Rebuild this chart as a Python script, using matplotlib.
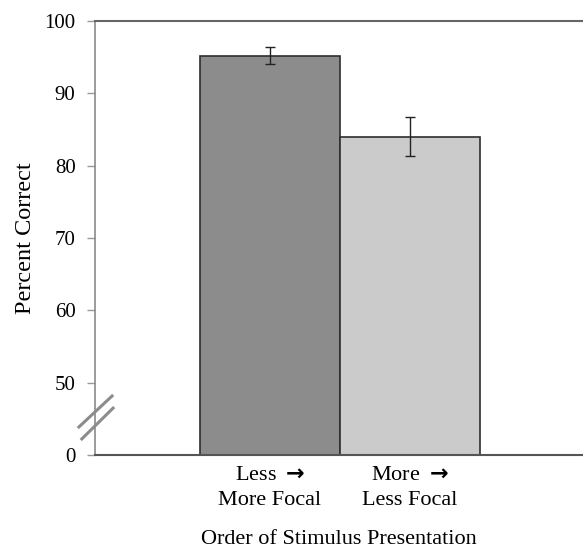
import matplotlib
matplotlib.use("Agg")
import matplotlib.pyplot as plt

categories = ["Less $\\mathbf{\\rightarrow}$\nMore Focal", "More $\\mathbf{\\rightarrow}$\nLess Focal"]
values = [95.2, 84.0]
errors = [1.2, 2.7]
bar_colors = ["#8c8c8c", "#cbcbcb"]
ytick_vals = [40, 50, 60, 70, 80, 90, 100]
ytick_labels = ["0", "50", "60", "70", "80", "90", "100"]

plt.rcParams['font.family'] = ['Liberation Serif', 'DejaVu Serif']
plt.rcParams['mathtext.fontset'] = 'custom'
plt.rcParams['mathtext.rm'] = 'Liberation Serif'
plt.rcParams['mathtext.bf'] = 'DejaVu Sans:bold'

fig = plt.figure(figsize=(5.83, 5.49), dpi=100)
ax = fig.add_axes([95/583, 94/549, 1 - 95/583, (455-21)/549])

x = list(range(len(categories)))
ax.bar(x, values, width=1.0, color=bar_colors, edgecolor="#2e2e2e", linewidth=1.2, zorder=2)
ax.errorbar(x, values, yerr=errors, fmt="none", ecolor="#222222", elinewidth=1.0,
            capsize=3.5, capthick=1.0, zorder=3)

ax.set_xlim(-1.25, 2.236)
ax.set_ylim(40, 100)
ax.set_yticks(ytick_vals)
ax.set_yticklabels(ytick_labels, fontsize=15)
ax.set_xticks(x)
ax.set_xticklabels(categories, fontsize=16, linespacing=1.45)
ax.tick_params(axis="x", length=0, pad=8)
ax.tick_params(axis="y", length=6, width=1.0, color="#999999", pad=8)

ax.spines["right"].set_visible(False)
ax.spines["left"].set_color("#8a8a8a")
ax.spines["left"].set_linewidth(1.2)
ax.spines["bottom"].set_color("#555555")
ax.spines["bottom"].set_linewidth(1.5)
ax.spines["top"].set_color("#666666")
ax.spines["top"].set_linewidth(1.5)

ax.set_ylabel("Percent Correct", fontsize=17.5, labelpad=6)
ax.set_xlabel("Order of Stimulus Presentation", fontsize=16, labelpad=14)

# axis break marks
ax.plot([-0.033, 0.035], [0.0645, 0.136], transform=ax.transAxes, color="#8c8c8c",
        lw=2.2, clip_on=False, zorder=5)
ax.plot([-0.027, 0.037], [0.037, 0.108], transform=ax.transAxes, color="#8c8c8c",
        lw=2.2, clip_on=False, zorder=5)

fig.savefig("out.png", dpi=100)
